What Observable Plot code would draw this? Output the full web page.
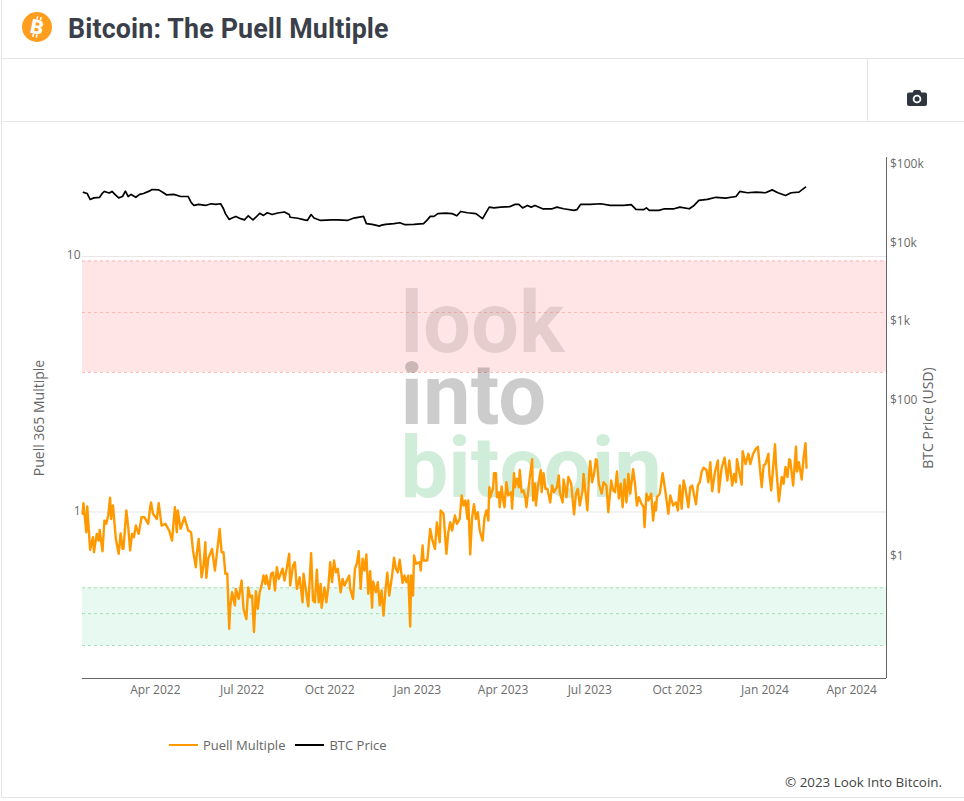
<!DOCTYPE html>
<html>
<head>
<meta charset="utf-8">
<script src="https://cdn.jsdelivr.net/npm/d3@7"></script>
<script src="https://cdn.jsdelivr.net/npm/@observablehq/plot@0.6"></script>
<style>
html,body{margin:0;padding:0;background:#fff;width:964px;height:801px;overflow:hidden;font-family:"Open Sans",sans-serif}
#page{position:relative;width:964px;height:801px}
.hline{position:absolute;background:#e6e6e6}
#title{position:absolute;left:68px;top:12px;font:700 26.8px/34px Roboto,sans-serif;color:#3a3f4a;letter-spacing:.15px;white-space:nowrap;margin:0}
#chart{position:absolute;left:0;top:122px}
#legend{position:absolute;left:169px;top:736px;height:18px;display:flex;align-items:center;font-size:13px;color:#666}
#legend i{display:inline-block;width:29px;height:2px;margin-right:5px}
#legend span{margin-right:10px}
#foot{position:absolute;right:22px;top:773px;font-size:13.4px;color:#444}
</style>
</head>
<body>
<div id="page">
  <div class="hline" style="left:1px;top:0;width:1px;height:797px"></div>
  <div class="hline" style="left:1px;top:58px;width:963px;height:1px"></div>
  <div class="hline" style="left:1px;top:121px;width:963px;height:1px"></div>
  <div class="hline" style="left:867px;top:58px;width:1px;height:64px"></div>
  <div class="hline" style="left:1px;top:797px;width:963px;height:1px"></div>
  <svg style="position:absolute;left:22px;top:12px" width="30" height="30" viewBox="0 0 30 30">
    <circle cx="15" cy="15" r="15" fill="#ff9d1e"/>
    <text x="15" y="22" text-anchor="middle" font-family="Roboto" font-weight="900" font-size="20" fill="#fff" transform="rotate(12 15 15)">B</text>
    <path d="M13.5 4.5v3M17 4.5v3M13 22.5v3M16.5 22.5v3" stroke="#fff" stroke-width="1.6" transform="rotate(12 15 15)"/>
  </svg>
  <h1 id="title">Bitcoin: The Puell Multiple</h1>
  <svg style="position:absolute;left:907px;top:89px" width="20" height="18" viewBox="0 0 20 18">
    <path d="M2 3.5h3.6L7 1h6l1.4 2.5H18a2 2 0 0 1 2 2V15a2 2 0 0 1-2 2H2a2 2 0 0 1-2-2V5.500a2 2 0 0 1 2-2z" fill="#30363f"/>
    <circle cx="10" cy="10" r="4.300" fill="#fff"/><circle cx="10" cy="10" r="2.500" fill="#30363f"/>
  </svg>
  <div id="chart"></div>
  <div id="legend"><i style="background:#ff9900"></i><span>Puell Multiple</span><i style="background:#000"></i><span style="margin:0">BTC Price</span></div>
  <div id="foot">© 2023 Look Into Bitcoin.</div>
</div>
<script>
const puellDays = [0,1,4,5,8,11,12,15,17,18,21,23,25,27,29,30,32,35,38,40,42,43,46,48,50,52,54,56,59,62,65,69,71,72,74,78,80,83,87,91,94,97,99,100,103,107,111,114,116,119,120,122,125,127,129,130,132,136,139,141,144,146,148,150,152,154,155,157,160,161,164,167,169,172,174,176,
178,180,182,184,186,188,190,192,193,196,198,200,202,204,206,210,212,214,217,218,221,223,225,228,231,232,237,240,242,244,246,248,250,251,254,256,258,260,262,264,266,268,271,273,275,280,281,284,286,288,290,292,294,296,298,300,302,304,305,308,310,312,314,316,318,320,322,325,327,329,331,333,336,338,340,342,344,345,347,348,350,354,
355,357,358,362,365,367,370,372,375,376,379,382,384,386,388,391,393,396,398,400,402,404,405,407,409,411,413,415,417,420,422,424,426,
427,428,431,432,434,435,437,438,440,442,443,445,447,450,451,453,454,456,458,459,461,463,465,466,469,472,473,475,476,478,481,482,484,486,488,491,493,495,498,500,501,504,505,508,510,513,516,518,520,522,525,526,530,532,533,535,537,539,540,542,545,547,550,552,555,557,559,561,563,565,567,569,571,573,575,578,580,582,584,587,589,590,592,594,597,599,601,602,603,606,
609,612,615,617,620,623,625,627,629,631,633,636,638,640,644,646,648,650,652,655,657,659,661,664,667,668,671,674,677,679,682,684,686,687,692,693,696,699,701,704,707,709,711,713,715,717,720,721,723,727,728,731,734,736,738,740,742,743,746,749,750,752,755,757,759,760];
const puellValues = [.984,1.082,.833,1.05,.711,.797,.696,.821,.773,.851,.702,.926,.899,.969,1.137,.939,1.06,.785,.686,.825,.717,.717,1.014,.872,.707,.821,.797,.885,.821,.954,.954,.899,1.044,1.09,.984,.939,1.082,.885,.899,.846,.773,1.044,.833,1.014,.859,.954,.846,.833,.707,.608,.686,.785,.555,.617,.761,.552,.656,.717,.59,.686,.859,.696,.696,.573,.573,.349,.424,.485,.431,.5,.457,.539,.418,.381,.507,.464,
.471,.339,.49,.418,.485,.515,.564,.523,.564,.5,.573,.58,.493,.608,.547,.6,.539,.59,.686,.515,.617,.636,.5,.555,.443,.573,.427,.69,.45,.443,.594,.443,.523,.422,.507,.443,.507,.636,.531,.646,.58,.6,.485,.547,.515,.564,.5,.457,.6,.627,.702,.5,.656,.59,.682,.478,.586,.422,.535,.485,.531,.431,.493,.393,.493,.578,.471,.564,.662,.6,.58,.65,.527,.564,.531,.564,.356,.564,.471,.676,.627,.636,
.59,.739,.646,.646,.859,.785,.717,.911,.761,1.014,.984,.686,.833,.911,.846,.969,.899,.939,1.16,1.06,1.109,.939,1.109,.682,.954,1.073,.939,.998,.846,.773,.954,1.014,.926,
1.25,1.14,1.24,1.42,1.42,1.142,1.195,1.044,1.258,1.09,1.044,1.308,1.16,1.195,1.03,1.42,1.25,1.35,1.25,1.46,1.195,1.214,1.13,1.044,1.308,1.61,1.109,1.29,1.06,1.25,1.46,1.195,1.42,1.233,1.233,1.09,1.27,1.195,1.25,1.39,1.195,1.09,1.34,1.142,1.37,1.29,.978,1.18,1.233,1.06,1.214,1.41,1.014,1.44,1.58,1.308,1.41,1.61,1.591,1.29,1.18,1.308,1.27,.998,1.328,1.214,1.195,1.44,1.13,1.29,1.044,1.34,1.09,1.41,1.18,1.47,1.29,1.06,1.142,1.073,1.046,.872,1.18,1.109,1.18,.926,1.09,1.014,1.142,1.18,
1.42,1.195,.984,1.16,1.06,1.09,1.014,1.27,1.03,1.328,1.233,1.044,1.25,1.27,1.073,1.27,1.308,1.44,1.49,1.46,1.308,1.565,1.206,1.44,1.591,1.195,1.49,1.63,1.328,1.591,1.27,1.41,1.308,1.61,1.28,1.73,1.54,1.69,1.54,1.69,1.77,1.8,1.5,1.25,1.52,1.54,1.69,1.41,1.214,1.84,1.54,1.1,1.37,1.29,1.5,1.37,1.61,1.591,1.27,1.8,1.44,1.565,1.34,1.64,1.86,1.49];
const btcDays = [1,5,8,12,18,21,23,28,31,34,38,42,45,48,51,56,60,64,70,73,80,85,88,96,103,111,114,117,122,129,135,140,145,148,150,154,157,161,166,170,174,179,182,186,190,194,199,205,212,217,218,226,233,236,240,243,250,261,268,278,285,295,298,304,312,
313,318,327,333,338,348,358,362,365,369,373,381,388,393,397,404,413,420,423,427,432,439,449,454,458,462,467,471,475,483,493,498,505,516,519,523,533,544,554,568,576,581,589,592,595,605,611,621,627,
637,642,647,656,665,675,686,690,698,707,717,724,730,738,744,752,759];
const btcValues = [42660,41340,34750,36350,37000,41880,43900,41880,43900,40250,36350,37850,44300,37850,40250,37000,40250,41340,44300,46500,46000,42240,39800,40250,37850,37850,31900,29110,30050,29110,30600,30050,30600,26400,22900,19300,20100,21100,19740,19050,21500,19050,20600,23100,21720,23500,22300,23300,24000,22300,20600,20000,19050,18750,22300,20100,18750,19050,19050,18750,20100,21100,17100,16700,15900,
16190,16700,17100,17500,16600,16700,17100,19050,21100,21100,22900,23300,22900,21500,24400,23500,22900,19740,22900,27700,27100,27700,28200,30050,30050,27100,29110,27700,29110,26400,26400,27700,26400,25150,25700,30050,30050,30600,29110,29110,29800,25900,25700,27100,25150,25150,26400,26400,27700,
26400,29110,33730,34750,37000,36100,37850,43900,42240,43000,42240,46000,42240,39070,42240,43000,49800];
const xTickDates = ["2022-04-01","2022-07-01","2022-10-01","2023-01-01","2023-04-01","2023-07-01","2023-10-01","2024-01-01","2024-04-01"];
const puellTicks = [1,10];
const btcTicks = [100000,10000,1000,100,1];
const btcTickLabels = ["$100k","$10k","$1k","$100","$1"];
const redBand = [3.52,9.6];
const redLevels = [9.6,6.04,3.52];
const greenBand = [0.3,0.505];
const greenLevels = [0.505,0.4,0.3];
const firstDate = "2022-01-14";
const xDomain = [new Date("2022-01-14"),new Date("2024-05-07")];
const yDomain = [0.223,24.4];
const btcDomain = [0.027,119000];
const btcToLog = d3.scaleLog().domain(btcDomain).range(yDomain.map(Math.log));
const toLeft = v => Math.exp(btcToLog(v));
const toDate = n => d3.utcDay.offset(new Date(firstDate),n);
const puell = puellDays.map((d,i)=>({date:toDate(d),value:puellValues[i]}));
const btc = btcDays.map((d,i)=>({date:toDate(d),value:toLeft(btcValues[i])}));
const wm = (t,fill,dy)=>Plot.text([t],{frameAnchor:"top-left",textAnchor:"start",lineAnchor:"bottom",dx:318,dy,fill,fillOpacity:.2,fontSize:85,fontWeight:700,fontFamily:"Roboto"});
const band = (r,fill)=>Plot.rect([r],{x1:xDomain[0],x2:xDomain[1],y1:d=>d[0],y2:d=>d[1],fill,inset:0});
const levels = (l,stroke)=>Plot.ruleY(l,{stroke,strokeWidth:1,strokeDasharray:"3,3"});
const chart = Plot.plot({
  width:964,height:600,marginLeft:82,marginRight:78,marginTop:35,marginBottom:44,
  style:{background:"transparent",fontFamily:"Open Sans",fontSize:"12px",overflow:"visible"},
  x:{type:"utc",domain:xDomain},
  y:{type:"log",domain:yDomain},
  marks:[
    Plot.ruleY(puellTicks,{stroke:"#e6e6e6"}),
    band(redBand,"#ffe5e5"),
    band(greenBand,"#e7f9f0"),
    levels(redLevels,"#ffb4b4"),
    levels(greenLevels,"#a5dcb4"),
    wm("look","#7d6e72",194),
    wm("into","#000000",266),
    wm("bitcoin","#14a541",339),
    Plot.line(btc,{x:"date",y:"value",stroke:"#000",strokeWidth:1.7}),
    Plot.line(puell,{x:"date",y:"value",stroke:"#ff9900",strokeWidth:2.4}),
    Plot.ruleY([yDomain[0]],{stroke:"#666"}),
    Plot.ruleX([xDomain[1]],{stroke:"#666"}),
    Plot.axisX(xTickDates.map(d=>new Date(d)),{anchor:"bottom",tickSize:0,tickPadding:6.5,tickFormat:d3.utcFormat("%b %Y"),color:"#6b6b6b",label:null,dx:-0.5}),
    Plot.axisY(puellTicks,{anchor:"left",tickSize:0,tickPadding:2,tickFormat:d=>String(d),color:"#6b6b6b",label:null,dy:-1}),
    Plot.text(btcTicks,{x:xDomain[1],y:d=>toLeft(d),text:(d,i)=>btcTickLabels[i],textAnchor:"start",dx:3.5,dy:1,fill:"#6b6b6b"}),
    Plot.text(["Puell 365 Multiple"],{frameAnchor:"left",textAnchor:"middle",dx:-43,rotate:-90,fill:"#666",fontSize:14}),
    Plot.text(["BTC Price (USD)"],{frameAnchor:"right",textAnchor:"middle",dx:42,rotate:-90,fill:"#666",fontSize:14})
  ]
});
document.getElementById("chart").appendChild(chart);
</script>
</body>
</html>
